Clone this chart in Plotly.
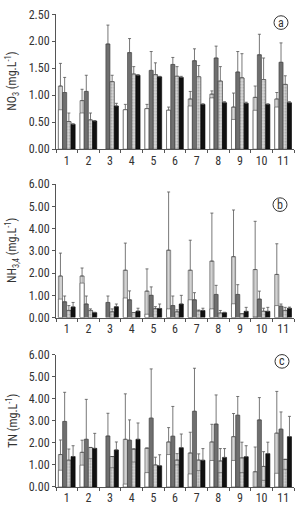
import plotly.graph_objects as go

groups = list(range(1, 12))
tick_labels = [str(g) for g in groups]

# ---------- Panel a : NO3 ----------
a_hatch = [1.17, 0.90, None, 0.73, 0.75, 0.72, 0.93, 1.02, 0.78, 0.96, 0.93]
a_hatch_sd = [0.42, 0.21, 0, 0.10, 0.08, 0.06, 0.14, 0.06, 0.26, 0.21, 0.12]
a_white = [0.73, 0.67, None, 0.73, 0.75, 0.72, 0.80, 0.95, 0.55, 0.72, 0.78]
a_dark = [1.05, 1.07, 1.95, 1.79, 1.46, 1.57, 1.64, 1.69, 1.43, 1.75, 1.61]
a_dark_sd = [0.28, 0.30, 0.35, 0.26, 0.35, 0.13, 0.22, 0.22, 0.38, 0.38, 0.36]
a_light = [0.51, 0.54, 1.25, 1.39, 1.38, 1.35, 1.34, 1.26, 1.32, 1.29, 1.20]
a_light_sd = [0.16, 0.13, 0.12, 0.14, 0.22, 0.18, 0.21, 0.27, 0.45, 0.40, 0.16]
a_dot = [0.51, 0.54, 1.25, 1.39, 1.38, 1.35, 1.34, 1.26, 1.32, 1.29, 1.20]
a_black = [0.46, 0.52, 0.80, 1.37, 1.34, 1.33, 0.83, 0.86, 0.85, 0.83, 0.86]
a_black_sd = [0.01, 0.01, 0.05, 0.01, 0.01, 0.02, 0.01, 0.02, 0.02, 0.01, 0.02]

# ---------- Panel b : NH3,4 ----------
b_hatch = [1.87, 1.87, None, 2.13, 1.19, 3.03, 2.13, 2.54, 2.74, 2.16, 1.94]
b_hatch_sd = [1.03, 0.36, 0, 1.22, 1.00, 2.62, 1.35, 2.16, 2.10, 2.17, 1.38]
b_white = [0.83, 1.55, None, 0.88, 0.15, 0.39, 0.80, 0.39, 0.62, 0.03, 0.54]
b_dark = [0.71, 0.61, 0.68, 0.80, 1.00, 0.54, 0.80, 1.04, 1.04, 0.83, 0.51]
b_dark_sd = [0.26, 0.36, 0.29, 0.40, 0.38, 0.43, 0.32, 0.41, 0.44, 0.36, 0.10]
b_light = [0.32, 0.32, 0.25, 0.22, 0.39, 0.25, 0.29, 0.20, 0.17, 0.28, 0.32]
b_light_sd = [0.22, 0.07, 0.14, 0.0, 0.10, 0.10, 0.05, 0.12, 0.0, 0.14, 0.14]
b_dot = [0.32, 0.32, 0.25, 0.22, 0.39, 0.25, 0.29, 0.20, 0.17, 0.28, 0.32]
b_black = [0.48, 0.22, 0.49, 0.29, 0.41, 0.61, 0.32, 0.22, 0.28, 0.28, 0.42]
b_black_sd = [0.20, 0.02, 0.12, 0.13, 0.20, 0.39, 0.10, 0.02, 0.18, 0.18, 0.05]

# ---------- Panel c : TN ----------
c_hatch = [1.47, 1.57, None, 2.16, 1.76, 2.04, 1.54, 2.04, 2.28, 0.69, 2.44]
c_hatch_sd = [0.66, 0.55, 0, 2.06, 0.0, 0.65, 0.94, 0.80, 1.05, 1.12, 1.89]
c_white = [0.76, 0.99, None, 0.13, 0.65, 1.47, 0.59, 1.20, 1.20, None, 0.62]
c_dark = [2.97, 2.16, 2.31, 2.12, 3.12, 2.30, 3.43, 2.85, 3.25, 3.04, 2.62]
c_dark_sd = [1.32, 1.81, 1.03, 0.92, 2.23, 1.35, 1.95, 1.32, 0.85, 1.01, 0.78]
c_light = [1.21, 1.79, 1.38, 1.72, 0.99, 1.22, 1.22, 1.18, 1.32, 0.93, 1.25]
c_light_sd = [0.51, 0.0, 0.0, 0.0, 0.36, 0.29, 0.28, 0.56, 0.71, 0.67, 0.0]
c_dot = [1.21, 1.28, 0.87, 1.13, 0.99, 1.00, 0.74, 0.65, 0.65, 0.30, 0.80]
c_black = [1.38, 1.75, 1.68, 2.16, 0.96, 1.78, 1.21, 1.34, 1.37, 1.51, 2.28]
c_black_sd = [0.49, 0.68, 0.36, 0.74, 0.50, 0.62, 0.53, 0.40, 0.50, 0.52, 0.92]

panel_letters = ["a", "b", "c"]
y_titles = ["NO<sub>3</sub> (mg.L<sup>-1</sup>)",
            "NH<sub>3,4</sub> (mg.L<sup>-1</sup>)",
            "TN (mg.L<sup>-1</sup>)"]
y_max = [2.5, 6.0, 6.0]
y_dtick = [0.5, 1.0, 1.0]

panels = [
    (a_hatch, a_hatch_sd, a_white, a_dark, a_dark_sd, a_light, a_light_sd, a_dot, a_black, a_black_sd),
    (b_hatch, b_hatch_sd, b_white, b_dark, b_dark_sd, b_light, b_light_sd, b_dot, b_black, b_black_sd),
    (c_hatch, c_hatch_sd, c_white, c_dark, c_dark_sd, c_light, c_light_sd, c_dot, c_black, c_black_sd),
]

W, H = 298, 530
ML, MR = 56, 4
PW = W - ML - MR
# pixel positions (y of zero, y of top) for each panel
pix = [(146, 7.5), (319, 182), (493, 357)]

BW = 0.19
OFF = [-0.39, -0.195, 0.0, 0.195]
LINE = dict(color="#4a4a4a", width=0.6)
FONT = "Liberation Sans Narrow, Roboto Condensed, Liberation Sans, Arial"


def err(sd):
    return dict(type="data", symmetric=False, array=sd, arrayminus=[0] * len(sd),
                color="#555555", thickness=0.8, width=1.5)


fig = go.Figure()
for i, (hat, hat_sd, wht, drk, drk_sd, lgt, lgt_sd, dot, blk, blk_sd) in enumerate(panels):
    xa = "x" if i == 0 else f"x{i+1}"
    ya = "y" if i == 0 else f"y{i+1}"
    common = dict(x=groups, xaxis=xa, yaxis=ya, width=BW, showlegend=False)
    # position 1: hatched light bar with white inner part
    fig.add_trace(go.Bar(y=hat, offset=OFF[0], error_y=err(hat_sd),
                         marker=dict(color="#cfcfcf", line=LINE,
                                     pattern=dict(shape="|", fgcolor="#8a8a8a", bgcolor="#d6d6d6",
                                                  size=2.5, solidity=0.35)), **common))
    fig.add_trace(go.Bar(y=wht, offset=OFF[0],
                         marker=dict(color="#ffffff", line=LINE), **common))
    # position 2: dark grey bar
    fig.add_trace(go.Bar(y=drk, offset=OFF[1], error_y=err(drk_sd),
                         marker=dict(color="#6f6f6f", line=dict(color="#3a3a3a", width=0.6)), **common))
    # position 3: light hatched outer with dotted inner
    fig.add_trace(go.Bar(y=lgt, offset=OFF[2], error_y=err(lgt_sd),
                         marker=dict(color="#d0d0d0", line=LINE,
                                     pattern=dict(shape="|", fgcolor="#8a8a8a", bgcolor="#d6d6d6",
                                                  size=2.5, solidity=0.35)), **common))
    fig.add_trace(go.Bar(y=dot, offset=OFF[2],
                         marker=dict(color="#bdbdbd", line=LINE,
                                     pattern=dict(shape=".", fgcolor="#777777", bgcolor="#d8d8d8",
                                                  size=3, solidity=0.4)), **common))
    # position 4: black bar
    fig.add_trace(go.Bar(y=blk, offset=OFF[3], error_y=err(blk_sd),
                         marker=dict(color="#111111", line=dict(color="#000000", width=0.6)), **common))

    y0, y1 = pix[i]
    dom = [1 - y0 / H, 1 - y1 / H]
    xkey = "xaxis" if i == 0 else f"xaxis{i+1}"
    ykey = "yaxis" if i == 0 else f"yaxis{i+1}"
    fig.update_layout(**{
        xkey: dict(domain=[0, 1], anchor=ya, range=[0.5, 11.5],
                   tickmode="array", tickvals=groups, ticktext=tick_labels,
                   ticks="", showline=True, linecolor="#555555", linewidth=1,
                   showgrid=False, zeroline=False,
                   minor=dict(ticks="outside", tick0=0.5, dtick=1, ticklen=3,
                              tickcolor="#555555", showgrid=False),
                   tickfont=dict(family=FONT, size=12, color="#333333")),
        ykey: dict(domain=dom, anchor=xa, range=[0, y_max[i]], dtick=y_dtick[i],
                   tickformat=".2f", ticks="outside", ticklen=3, tickcolor="#555555",
                   showline=True, linecolor="#555555", linewidth=1,
                   showgrid=False, zeroline=False,
                   tickfont=dict(family=FONT, size=12, color="#333333")),
    })
    # y title
    fig.add_annotation(text=y_titles[i], xref="paper", yref="paper",
                       x=(12 - ML) / PW, y=(dom[0] + dom[1]) / 2, textangle=-90,
                       showarrow=False, xanchor="center", yanchor="middle",
                       font=dict(family=FONT, size=12, color="#333333"))

# circled panel letters
circ = [(281, 16), (280, 203), (282, 364)]
r = 7
for (cx, cy), letter in zip(circ, panel_letters):
    fig.add_shape(type="circle", xref="paper", yref="paper",
                  x0=(cx - r - ML) / PW, x1=(cx + r - ML) / PW,
                  y0=1 - (cy + r) / H, y1=1 - (cy - r) / H,
                  line=dict(color="#333333", width=1))
    fig.add_annotation(text=letter, xref="paper", yref="paper",
                       x=(cx - ML) / PW, y=1 - cy / H, showarrow=False,
                       xanchor="center", yanchor="middle",
                       font=dict(family=FONT, size=12, color="#333333"))

fig.update_layout(width=W, height=H, barmode="overlay",
                  margin=dict(l=ML, r=MR, t=0, b=0),
                  plot_bgcolor="white", paper_bgcolor="white",
                  showlegend=False)

fig.write_html("out.html")
